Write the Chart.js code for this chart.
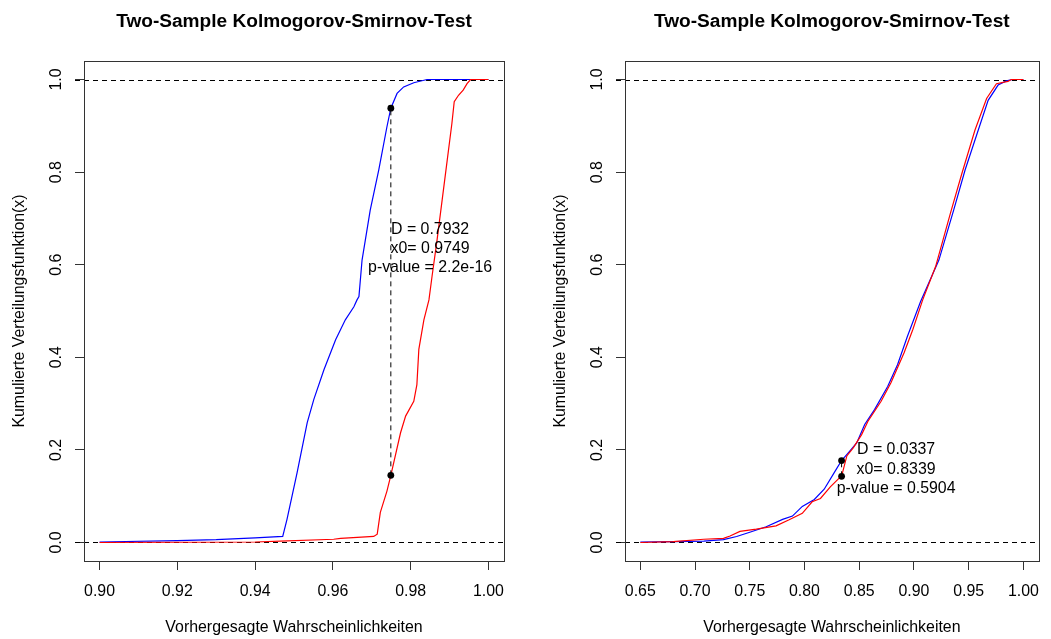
<!DOCTYPE html>
<html>
<head>
<meta charset="utf-8">
<script src="https://cdn.jsdelivr.net/npm/chart.js@4.4.1/dist/chart.umd.min.js"></script>
<style>
  html, body { margin: 0; padding: 0; background: #fff; }
  #wrap { position: relative; width: 1051px; height: 639px; }
  canvas { position: absolute; top: 0; }
  #left { left: 0; }
  #right { left: 525px; }
</style>
</head>
<body>
<div id="wrap">
  <canvas id="left" width="525" height="639"></canvas>
  <canvas id="right" width="526" height="639"></canvas>
</div>
<script>
// LEFT PANEL DATA
const leftBlueX = [0.900, 0.920, 0.930, 0.940, 0.9471, 0.9482, 0.9508, 0.9534, 0.9551, 0.9577, 0.9607, 0.9632, 0.9654, 0.9662,
    0.9667, 0.9675, 0.9696, 0.9718, 0.9739, 0.9749, 0.9765, 0.9782, 0.9808, 0.9842, 1.000];
const leftBlueY = [0.001, 0.004, 0.006, 0.010, 0.013, 0.050, 0.151, 0.259, 0.309, 0.373, 0.438, 0.481, 0.509, 0.524,
    0.531, 0.610, 0.718, 0.805, 0.898, 0.938, 0.970, 0.984, 0.993, 1.000, 1.000];
const leftRedX = [0.900, 0.940, 0.9465, 0.9602, 0.962, 0.9705, 0.9714, 0.9722, 0.9739, 0.9749, 0.9774, 0.9787, 0.9808, 0.9816,
    0.9821, 0.9834, 0.9847, 0.9855, 0.9868, 0.9881, 0.9894, 0.9906, 0.9912, 0.9923, 0.9935, 0.9945, 0.9954, 1.000];
const leftRedY = [0.000, 0.001, 0.003, 0.007, 0.009, 0.013, 0.018, 0.065, 0.111, 0.145, 0.237, 0.273, 0.305, 0.341,
    0.417, 0.481, 0.524, 0.575, 0.654, 0.740, 0.826, 0.905, 0.952, 0.966, 0.977, 0.991, 1.000, 1.000];
const leftKsX0 = 0.9749;
const leftKsY = [0.145, 0.938];
const leftKsText = ['D = 0.7932', 'x0= 0.9749', 'p-value = 2.2e-16'];
const leftXTicks = [0.90, 0.92, 0.94, 0.96, 0.98, 1.00];

// RIGHT PANEL DATA
const rightBlueX = [0.650, 0.680, 0.708, 0.726, 0.738, 0.750, 0.765, 0.780, 0.789, 0.798, 0.809, 0.818, 0.828, 0.8339,
    0.8402, 0.8477, 0.855, 0.864, 0.876, 0.885, 0.894, 0.906, 0.9228, 0.9363, 0.9468, 0.9588, 0.9678, 0.9769, 0.9844, 0.990, 1.000];
const rightBlueY = [0.001, 0.002, 0.003, 0.006, 0.013, 0.022, 0.034, 0.050, 0.057, 0.078, 0.093, 0.115, 0.154, 0.177,
    0.194, 0.215, 0.255, 0.287, 0.337, 0.384, 0.445, 0.520, 0.610, 0.718, 0.805, 0.891, 0.955, 0.988, 0.997, 1.000, 1.000];
const rightRedX = [0.650, 0.680, 0.708, 0.726, 0.732, 0.741, 0.756, 0.774, 0.786, 0.798, 0.807, 0.8146, 0.8236, 0.8312, 0.8339,
    0.8387, 0.8447, 0.8522, 0.858, 0.870, 0.879, 0.891, 0.899, 0.908, 0.9198, 0.9333, 0.9438, 0.9558, 0.9664, 0.9754, 0.9859, 0.989, 1.000];
const rightRedY = [0.000, 0.002, 0.007, 0.009, 0.014, 0.024, 0.029, 0.036, 0.049, 0.063, 0.088, 0.095, 0.120, 0.138, 0.143,
    0.187, 0.205, 0.233, 0.262, 0.305, 0.345, 0.410, 0.460, 0.524, 0.596, 0.711, 0.797, 0.891, 0.959, 0.991, 0.996, 1.000, 1.000];
const rightKsX0 = 0.8339;
const rightKsY = [0.143, 0.177];
const rightKsText = ['D = 0.0337', 'x0= 0.8339', 'p-value = 0.5904'];
const rightXTicks = [0.65, 0.70, 0.75, 0.80, 0.85, 0.90, 0.95, 1.00];

const yTicks = [0.0, 0.2, 0.4, 0.6, 0.8, 1.0];
const refLevels = [0, 1];

const FONT = '"Liberation Sans", Arial, Helvetica, sans-serif';
Chart.defaults.font.family = FONT;
Chart.defaults.font.size = 15.9;
Chart.defaults.color = '#000';

const toPoints = (xs, ys) => xs.map((v, i) => ({ x: v, y: ys[i] }));

// dashed reference lines, annotation text and the plot box
const ksPlugin = {
    id: 'ksMarks',
    beforeDatasetsDraw(chart, args, opts) {
        const { ctx, chartArea, scales } = chart;
        ctx.save();
        ctx.strokeStyle = '#000';
        ctx.lineWidth = 1;
        ctx.setLineDash([5, 4]);
        opts.levels.forEach(v => {
            const py = Math.round(scales.y.getPixelForValue(v)) + 0.5;
            ctx.beginPath();
            ctx.moveTo(chartArea.left - 9, py);
            ctx.lineTo(chartArea.right, py);
            ctx.stroke();
        });
        ctx.restore();
    },
    afterDatasetsDraw(chart, args, opts) {
        const { ctx, chartArea, scales } = chart;
        ctx.save();
        ctx.fillStyle = '#000';
        ctx.font = '15.9px ' + FONT;
        ctx.textAlign = 'center';
        ctx.textBaseline = 'alphabetic';
        const cx = scales.x.getPixelForValue(opts.textX);
        const cy = scales.y.getPixelForValue(opts.textY);
        opts.text.forEach((t, i) => ctx.fillText(t, cx, cy + (i - 1) * 19.3));
        ctx.strokeStyle = '#333';
        ctx.lineWidth = 1;
        ctx.strokeRect(Math.round(chartArea.left) + 0.5, Math.round(chartArea.top) + 0.5,
            Math.round(chartArea.right - chartArea.left), Math.round(chartArea.bottom - chartArea.top));
        ctx.restore();
    }
};

function makeChart(id, p) {
    const datasets = [
        { data: toPoints([p.x0, p.x0], p.ksY), showLine: false, pointRadius: 3.4, pointBackgroundColor: '#000', pointBorderWidth: 0, order: 1 },
        { data: toPoints([p.x0, p.x0], p.ksY), showLine: true, borderColor: '#000', borderWidth: 1, borderDash: [5, 4], pointRadius: 0, order: 2 },
        { data: toPoints(p.redX, p.redY), showLine: true, borderColor: '#ff0000', borderWidth: 1.2, pointRadius: 0, order: 3 },
        { data: toPoints(p.blueX, p.blueY), showLine: true, borderColor: '#0000ff', borderWidth: 1.2, pointRadius: 0, order: 4 }
    ];
    return new Chart(document.getElementById(id), {
        type: 'scatter',
        data: { datasets: datasets },
        plugins: [ksPlugin],
        options: {
            responsive: false,
            animation: false,
            devicePixelRatio: 1,
            layout: { padding: { left: 0, right: p.padRight, top: 0, bottom: 0 } },
            plugins: {
                legend: { display: false },
                tooltip: { enabled: false },
                title: {
                    display: true,
                    fullSize: false,
                    text: 'Two-Sample Kolmogorov-Smirnov-Test',
                    color: '#000',
                    font: { size: 19.1, weight: 'bold' },
                    padding: { top: 10.4, bottom: 27.68 }
                },
                ksMarks: { levels: refLevels, text: p.text, textX: p.textX, textY: p.textY }
            },
            scales: {
                x: {
                    type: 'linear',
                    min: p.xMin,
                    max: p.xMax,
                    afterBuildTicks: axis => { axis.ticks = p.xTicks.map(v => ({ value: v })); },
                    afterFit: axis => { axis.height = 78; },
                    grid: { drawOnChartArea: false, drawTicks: true, tickLength: 9, color: '#333' },
                    border: { display: false },
                    ticks: { padding: 11.7, autoSkip: false, maxRotation: 0, callback: v => v.toFixed(2) },
                    title: { display: true, text: 'Vorhergesagte Wahrscheinlichkeiten', padding: { top: 0, bottom: 1.5 } }
                },
                y: {
                    type: 'linear',
                    min: -0.04,
                    max: 1.04,
                    afterBuildTicks: axis => { axis.ticks = yTicks.map(v => ({ value: v })); },
                    afterFit: axis => { axis.width = p.yWidth; },
                    grid: { drawOnChartArea: false, drawTicks: true, tickLength: 9, color: '#333' },
                    border: { display: false },
                    ticks: { padding: 7.5, autoSkip: false, minRotation: 90, maxRotation: 90, crossAlign: 'center', callback: v => v.toFixed(1) },
                    title: { display: true, text: 'Kumulierte Verteilungsfunktion(x)', padding: { top: p.yTitlePad, bottom: 0 } }
                }
            }
        }
    });
}

makeChart('left', {
    blueX: leftBlueX, blueY: leftBlueY, redX: leftRedX, redY: leftRedY,
    x0: leftKsX0, ksY: leftKsY, text: leftKsText, textX: 0.985, textY: 0.625,
    xMin: 0.896, xMax: 1.004, xTicks: leftXTicks, yWidth: 84, yTitlePad: 10, padRight: 21
});

makeChart('right', {
    blueX: rightBlueX, blueY: rightBlueY, redX: rightRedX, redY: rightRedY,
    x0: rightKsX0, ksY: rightKsY, text: rightKsText, textX: 0.8837, textY: 0.149,
    xMin: 0.636, xMax: 1.014, xTicks: rightXTicks, yWidth: 100, yTitlePad: 25.7, padRight: 6
});
</script>
</body>
</html>
